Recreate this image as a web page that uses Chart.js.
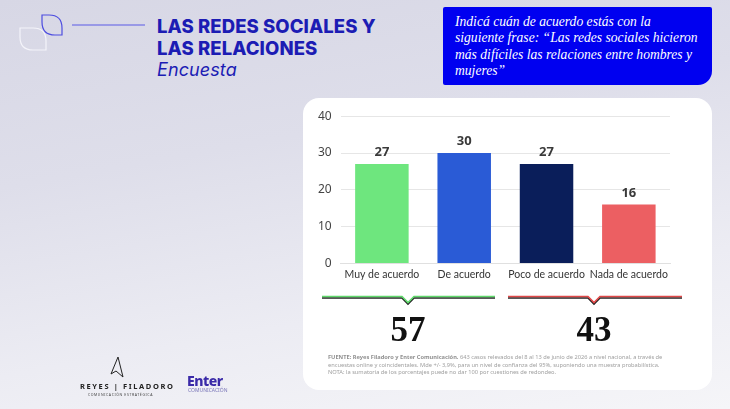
<html>
<head>
<title>Las redes sociales y las relaciones</title>
<style type="text/css">
* { margin: 0; padding: 0; }
body {
	width: 730px; height: 409px; overflow: hidden; position: relative;
	font-family: "Noto Sans", sans-serif;
	background: linear-gradient(170deg, #d7d7e5 0%, #dedeea 35%, #ececf3 70%, #f5f5f8 100%);
}
.title {
	position: absolute; left: 157px; top: 15px;
	color: #1c1cb4; font-family: Inter, "Noto Sans", sans-serif;
	font-weight: 800; font-size: 18.5px; line-height: 22px; letter-spacing: 0.1px;
}
.title i { font-weight: 400; font-size: 18px; }
.question {
	position: absolute; left: 443px; top: 7px; width: 269px; height: 78px;
	background: #0000f0; border-radius: 2px 2px 14px 2px;
	color: #fff; font-family: "Liberation Serif", serif; font-style: italic;
	font-size: 13.6px; line-height: 16.3px; box-sizing: border-box; padding: 7px 8px 0 12px;
	white-space: nowrap;
}
.card {
	position: absolute; left: 303px; top: 98px; width: 409px; height: 292px;
	background: #fff; border-radius: 16px;
}
#myChart { position: absolute; left: 309px; top: 100px; }
.total {
	position: absolute; top: 310px; width: 120px; text-align: center;
	font-family: "Liberation Serif", serif; font-weight: bold; font-size: 35px; color: #111;
}
.note {
	position: absolute; left: 328px; top: 354px; white-space: nowrap;
	font-size: 5.7px; line-height: 7.6px; color: #a0a0a0;
}
.note b { color: #909090; }
.logo1 { position: absolute; left: 80px; top: 381px; font-size: 7.5px; font-weight: bold; letter-spacing: 1.6px; color: #222; }
.logo1s { position: absolute; left: 88px; top: 392px; font-size: 3.5px; letter-spacing: 0.6px; color: #444; }
.logo2 { position: absolute; left: 187px; top: 371px; font-size: 14px; font-weight: 800; color: #3a2aa8; letter-spacing: -0.5px; }
.logo2s { position: absolute; left: 188px; top: 387px; font-size: 5px; color: #7a76b8; }
</style>
<script src="https://cdn.jsdelivr.net/npm/chart.js"></script>
</head>
<body>
<svg width="730" height="409" style="position:absolute;left:0;top:0">
	<path d="M20,28 H33 Q46,28 46,41 V50 H33 Q20,50 20,37 Z" fill="none" stroke="#f4f4fa" stroke-width="1.2"/>
	<path d="M42,15 H49 Q62,15 62,28 V35 H55 Q42,35 42,22 Z" fill="none" stroke="#4c4ce0" stroke-width="1.2"/>
	<line x1="72" y1="25" x2="145" y2="25" stroke="#5a5ae6" stroke-width="1.2"/>
	<path d="M118,357 L123,377 L116,371 L111,374 Z" fill="none" stroke="#222" stroke-width="1"/>
</svg>
<div class="title">LAS REDES SOCIALES Y<br>LAS RELACIONES<br><i>Encuesta</i></div>
<div class="question">Indicá cuán de acuerdo estás con la<br>siguiente frase: “Las redes sociales hicieron<br>más difíciles las relaciones entre hombres y<br>mujeres”</div>
<div class="card"></div>
<canvas id="myChart" width="372" height="186"></canvas>
<svg width="730" height="409" style="position:absolute;left:0;top:0">
	<path d="M322,298 H402 L408,304 L414,298 H495" fill="none" stroke="#222" stroke-width="1.6"/>
	<path d="M322,296.5 H402 L408,302.5 L414,296.5 H495" fill="none" stroke="#5ed86a" stroke-width="1.6"/>
	<path d="M508,298 H588 L594,304 L600,298 H682" fill="none" stroke="#222" stroke-width="1.6"/>
	<path d="M508,296.5 H588 L594,302.5 L600,296.5 H682" fill="none" stroke="#e04848" stroke-width="1.6"/>
</svg>
<div class="total" id="t1" style="left:348px"></div>
<div class="total" id="t2" style="left:534px"></div>
<div class="note"><b>FUENTE: Reyes Filadoro y Enter Comunicación.</b> 643 casos relevados del 8 al 13 de junio de 2026 a nivel nacional, a través de<br>encuestas online y coincidentales. Mde +/- 3,9%, para un nivel de confianza del 95%, suponiendo una muestra probabilística.<br>NOTA: la sumatoria de los porcentajes puede no dar 100 por cuestiones de redondeo.</div>
<div class="logo1">REYES | FILADORO</div>
<div class="logo1s">COMUNICACIÓN ESTRATÉGICA</div>
<div class="logo2">Enter</div>
<div class="logo2s">COMUNICACIÓN</div>
<script>
const categories = ['Muy de acuerdo', 'De acuerdo', 'Poco de acuerdo', 'Nada de acuerdo'];
const values = [27, 30, 27, 16];
const barColors = ['#6ee67e', '#2a5bd6', '#0a1e5a', '#ec5f62'];
const yTicks = [0, 10, 20, 30, 40];

// totals under the chart: agree vs. disagree
document.getElementById('t1').textContent = values[0] + values[1];
document.getElementById('t2').textContent = values[2] + values[3];

const valueLabels = {
	id: 'valueLabels',
	afterDatasetsDraw(chart) {
		const ctx = chart.ctx;
		const meta = chart.getDatasetMeta(0);
		ctx.save();
		ctx.font = 'bold 13px "Noto Sans", sans-serif';
		ctx.fillStyle = '#3a3a3a';
		ctx.textAlign = 'center';
		ctx.textBaseline = 'bottom';
		meta.data.forEach((bar, i) => {
			ctx.fillText(values[i], bar.x, bar.y - 5);
		});
		ctx.restore();
	}
};

const myChart = new Chart(document.getElementById('myChart'), {
	type: 'bar',
	data: {
		labels: categories,
		datasets: [{
			data: values,
			backgroundColor: barColors,
			categoryPercentage: 1,
			barPercentage: 0.65
		}]
	},
	options: {
		responsive: false,
		animation: false,
		layout: { padding: { top: 4, right: 11 } },
		plugins: { legend: false, tooltip: { enabled: false } },
		scales: {
			x: {
				grid: { display: false, drawTicks: false },
				border: { color: '#e0e0e0' },
				ticks: { color: '#333', font: { family: 'Lato, "Noto Sans", sans-serif', size: 10.5 }, padding: 5, maxRotation: 0, autoSkip: false }
			},
			y: {
				min: 0, max: 40,
				afterBuildTicks(axis) { axis.ticks = yTicks.map(v => ({ value: v })); },
				grid: { color: '#e6e6e6', drawTicks: false },
				border: { display: false },
				ticks: { color: '#444', font: { family: '"Noto Sans", sans-serif', size: 12 }, padding: 9 }
			}
		}
	},
	plugins: [valueLabels]
});
</script>
</body>
</html>
